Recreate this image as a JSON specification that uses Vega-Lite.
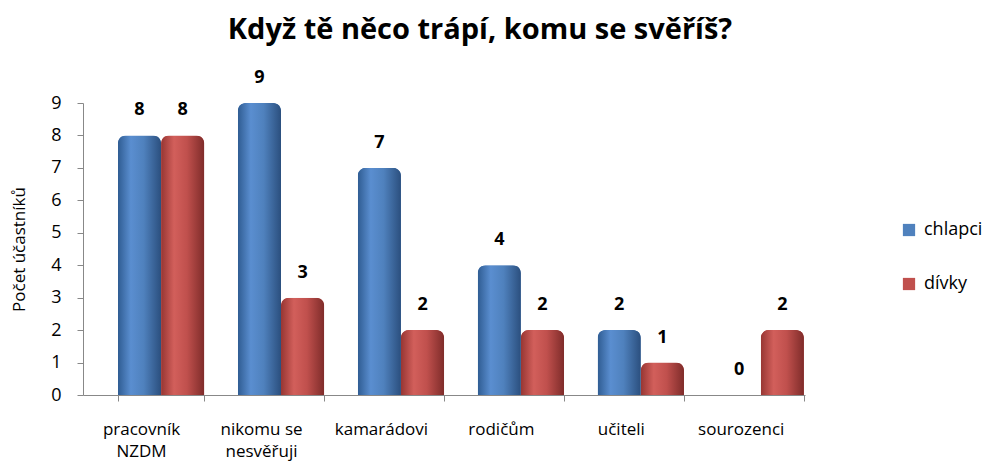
{
  "$schema": "https://vega.github.io/schema/vega-lite/v6.json",
  "autosize": "none",
  "width": 722,
  "height": 292,
  "padding": {"left": 83, "top": 103, "right": 181, "bottom": 66},
  "background": "white",
  "title": {
    "text": "Když tě něco trápí, komu se svěříš?",
    "font": "Open Sans",
    "fontSize": 29,
    "fontWeight": "bold",
    "color": "#000000",
    "anchor": "middle",
    "dx": 36,
    "offset": 24
  },
  "data": {
    "values": [
      {"kategorie": "pracovník NZDM", "skupina": "chlapci", "pocet": 8},
      {"kategorie": "pracovník NZDM", "skupina": "dívky", "pocet": 8},
      {"kategorie": "nikomu se nesvěřuji", "skupina": "chlapci", "pocet": 9},
      {"kategorie": "nikomu se nesvěřuji", "skupina": "dívky", "pocet": 3},
      {"kategorie": "kamarádovi", "skupina": "chlapci", "pocet": 7},
      {"kategorie": "kamarádovi", "skupina": "dívky", "pocet": 2},
      {"kategorie": "rodičům", "skupina": "chlapci", "pocet": 4},
      {"kategorie": "rodičům", "skupina": "dívky", "pocet": 2},
      {"kategorie": "učiteli", "skupina": "chlapci", "pocet": 2},
      {"kategorie": "učiteli", "skupina": "dívky", "pocet": 1},
      {"kategorie": "sourozenci", "skupina": "chlapci", "pocet": 0},
      {"kategorie": "sourozenci", "skupina": "dívky", "pocet": 2}
    ]
  },
  "encoding": {
    "x": {
      "field": "kategorie",
      "type": "nominal",
      "sort": null,
      "scale": {"paddingInner": 0.28, "paddingOuter": 0.15, "align": 0.97},
      "axis": {
        "title": null,
        "labelAngle": 0,
        "labelFont": "Open Sans",
        "labelFontSize": 17,
        "labelColor": "#000000",
        "labelPadding": 20,
        "labelLineHeight": 22,
        "labelOffset": -20,
        "tickOffset": -18,
        "labelExpr": "datum.value == 'pracovník NZDM' ? ['pracovník', 'NZDM'] : datum.value == 'nikomu se nesvěřuji' ? ['nikomu se', 'nesvěřuji'] : datum.value",
        "domainColor": "#888888",
        "tickColor": "#888888",
        "tickSize": 6,
        "tickBand": "extent",
        "grid": false
      }
    },
    "xOffset": {"field": "skupina", "type": "nominal", "sort": ["chlapci", "dívky"], "scale": {"paddingInner": 0}},
    "y": {
      "field": "pocet",
      "type": "quantitative",
      "scale": {"domain": [0, 9], "nice": false},
      "axis": {
        "title": "Počet účastníků",
        "titleFont": "Open Sans",
        "titleFontSize": 17,
        "titleFontWeight": "normal",
        "titleColor": "#000000",
        "titlePadding": 22,
        "labelFont": "Open Sans",
        "labelFontSize": 18,
        "labelColor": "#000000",
        "labelPadding": 16,
        "values": [0, 1, 2, 3, 4, 5, 6, 7, 8, 9],
        "domainColor": "#888888",
        "tickColor": "#888888",
        "tickSize": 6,
        "grid": false
      }
    }
  },
  "layer": [
    {
      "mark": {"type": "bar", "cornerRadiusTopLeft": 8, "cornerRadiusTopRight": 8, "stroke": null},
      "encoding": {
        "color": {
          "field": "skupina",
          "type": "nominal",
          "sort": ["chlapci", "dívky"],
          "scale": {"domain": ["chlapci", "dívky"], "range": ["#4F81BD", "#C0504D"]},
          "legend": {
            "title": null,
            "orient": "none",
            "legendX": 817,
            "legendY": 118,
            "symbolType": "square",
            "symbolSize": 150,
            "symbolStrokeWidth": 0,
            "labelFont": "Open Sans",
            "labelFontSize": 18,
            "labelColor": "#000000",
            "rowPadding": 36,
            "labelOffset": 6
          }
        }
      }
    },
    {
      "transform": [{"filter": "datum.skupina == 'chlapci'"}],
      "mark": {
        "type": "bar",
        "cornerRadiusTopLeft": 8,
        "cornerRadiusTopRight": 8,
        "color": {
          "gradient": "linear", "x1": 0, "y1": 0, "x2": 1, "y2": 0,
          "stops": [
            {"offset": 0, "color": "#2F5C92"},
            {"offset": 0.3, "color": "#5A8ED0"},
            {"offset": 0.6, "color": "#4F81BD"},
            {"offset": 1, "color": "#2B4F7E"}
          ]
        }
      }
    },
    {
      "transform": [{"filter": "datum.skupina == 'dívky'"}],
      "mark": {
        "type": "bar",
        "cornerRadiusTopLeft": 8,
        "cornerRadiusTopRight": 8,
        "color": {
          "gradient": "linear", "x1": 0, "y1": 0, "x2": 1, "y2": 0,
          "stops": [
            {"offset": 0, "color": "#973633"},
            {"offset": 0.3, "color": "#D25F5B"},
            {"offset": 0.6, "color": "#C0504D"},
            {"offset": 1, "color": "#7F2C2A"}
          ]
        }
      }
    },
    {
      "mark": {"type": "text", "baseline": "bottom", "dy": -16, "font": "Open Sans", "fontSize": 18, "fontWeight": "bold", "color": "#000000"},
      "encoding": {
        "text": {"field": "pocet", "type": "quantitative"}
      }
    }
  ],
  "config": {"view": {"stroke": null}}
}
